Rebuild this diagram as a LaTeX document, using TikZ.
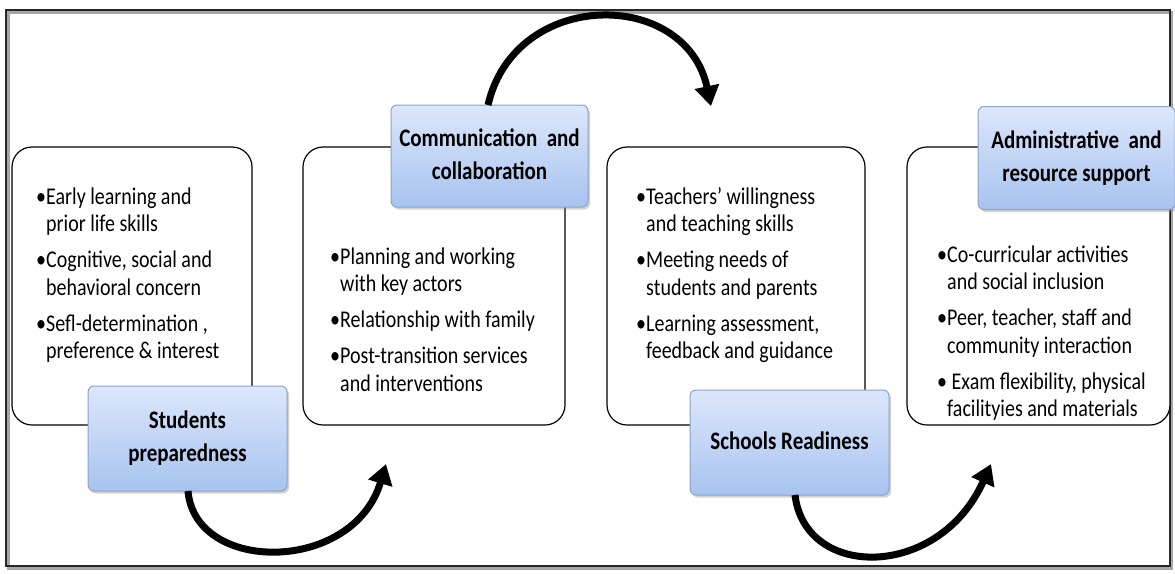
\documentclass[tikz,border=0pt]{standalone}
\usepackage{fontspec}
\usepackage{graphicx}
\setmainfont{Carlito}
\usetikzlibrary{arrows.meta,shadows}
\definecolor{tbtop}{HTML}{DCE7FB}
\definecolor{tbbot}{HTML}{A7C3F0}
\definecolor{tbdraw}{HTML}{8DA3C4}
\tikzset{
 panel/.style={draw=black, line width=1.2pt, rounded corners=20pt, fill=white, inner sep=0pt},
 titlebox/.style={draw=tbdraw, line width=1pt, rounded corners=6pt, top color=tbtop, bottom color=tbbot,
   drop shadow={opacity=0.35, shadow xshift=2pt, shadow yshift=-2.5pt},
   font=\fontsize{21}{27.5}\selectfont\bfseries, align=center, inner sep=0pt},
 flow/.style={line width=7pt, -{Triangle[length=20pt,width=24pt]}},
 bullets/.style={anchor=base west, inner sep=0pt, font=\fontsize{20}{23}\selectfont}
}
\newcommand\bitem{\par\hangindent=10pt\hangafter=1\noindent\makebox[10pt][l]{\textbullet}}
\newcommand\blist[1]{\scalebox{1}[1.2]{\parbox[t]{260pt}{\raggedright\setlength\parskip{7pt}#1}}}
\newcommand\ttl[1]{\scalebox{1}[1.2]{\begin{tabular}{@{}c@{}}#1\end{tabular}}}
\begin{document}
\begin{tikzpicture}[x=1pt,y=-1pt]
\useasboundingbox (0,0) rectangle (1175,573);
\fill[white] (0,0) rectangle (1175,573);
% outer frame
\draw[line width=3pt, black!35] (8.5,12.5) rectangle (1171.5,568.5);
\draw[line width=1.8pt, black!85] (6,10) rectangle (1170,566);
% panels
\node[panel, minimum width=240pt, minimum height=278pt] (b1) at (132,286) {};
\node[panel, minimum width=262pt, minimum height=278pt] (b2) at (434,286) {};
\node[panel, minimum width=258pt, minimum height=278pt] (b3) at (736,286) {};
\node[panel, minimum width=263pt, minimum height=278pt] (b4) at (1038.5,286) {};
% bullet texts
\node[bullets] (l1) at (36,204) {\blist{\bitem Early learning and\newline prior life skills
\bitem Cognitive, social and\newline behavioral concern
\bitem Sefl-determination ,\newline preference \& interest}};
\node[bullets] (l2) at (330,264) {\blist{\bitem Planning and working\newline with key actors
\bitem Relationship with family
\bitem Post-transition services\newline and interventions}};
\node[bullets] (l3) at (636,204) {\blist{\bitem Teachers' willingness\newline and teaching skills
\bitem Meeting needs of\newline students and parents
\bitem Learning assessment,\newline feedback and guidance}};
\node[bullets] (l4) at (937,262) {\blist{\bitem Co-curricular activities\newline and social inclusion
\bitem Peer, teacher, staff and\newline community interaction
\bitem\ Exam flexibility, physical\newline facilityies and materials}};
% title boxes
\node[titlebox, minimum width=199pt, minimum height=105pt] (t1) at (187.5,438.5) {\ttl{Students\\preparedness}};
\node[titlebox, minimum width=197pt, minimum height=102pt] (t2) at (489.5,156) {\ttl{Communication~ and\\collaboration}};
\node[titlebox, minimum width=199pt, minimum height=105pt] (t3) at (789.5,442.5) {\ttl{Schools Readiness}};
\node[titlebox, minimum width=197pt, minimum height=103pt] (t4) at (1076.5,158) {\ttl{Administrative~ and\\resource support}};
% arrows
\coordinate (s1) at (188,491);
\coordinate (e1) at (386,464);
\coordinate (s2) at (488,105);
\coordinate (e2) at (711,106);
\coordinate (s3) at (795,495);
\coordinate (e3) at (991,464);
\draw[flow] (s1) .. controls (195,574) and (353,574) .. (e1);
\draw[flow] (s2) .. controls (515,-12) and (686,-12) .. (e2);
\draw[flow] (s3) .. controls (805,580) and (939,580) .. (e3);
\end{tikzpicture}
\end{document}
